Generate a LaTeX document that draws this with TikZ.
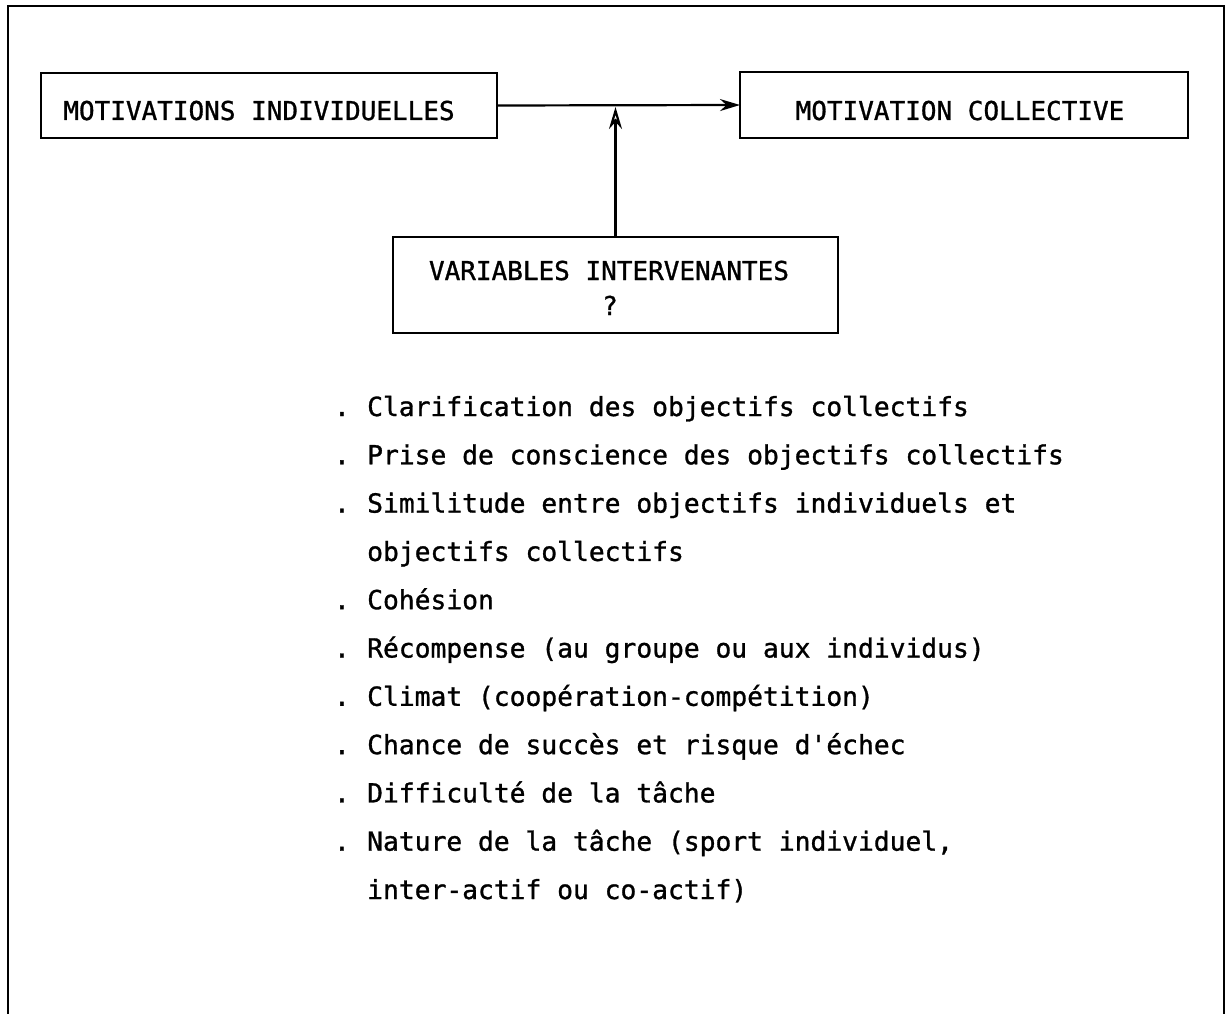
\documentclass[tikz,border=0pt]{standalone}
\usepackage{fontspec}
\newfontfamily\typefont[FakeBold=1.1]{DejaVu Sans Mono}
\usetikzlibrary{arrows.meta}
\begin{document}
\begin{tikzpicture}[x=1pt,y=-1pt,
  panel/.style={line width=2.6pt},
  box/.style={draw,line width=2.6pt,inner sep=0pt,outer sep=0pt},
  boxtxt/.style={font=\typefont\fontsize{26}{30}\selectfont,anchor=base,inner sep=0pt},
  item/.style={font=\typefont\fontsize{26.3}{30}\selectfont,anchor=base west,inner sep=0pt},
  dot/.style={font=\typefont\fontsize{26.3}{30}\selectfont,anchor=base,inner sep=0pt},
  link/.style={line width=2.2pt,-{Stealth[length=20pt,width=12pt]}},
  feed/.style={line width=2.2pt,-{Stealth[open,length=22pt,width=13pt]}}]
\useasboundingbox (0,0) rectangle (1229,1014);

% open frame around the whole figure
\draw[panel] (8,1014) -- (8,6) -- (1224,6) -- (1224,1014);

% the three boxes
\node[box,minimum width=456pt,minimum height=65pt] (A) at (269,105.5) {};
\node[box,minimum width=448pt,minimum height=66pt] (B) at (964,105) {};
\node[box,minimum width=445pt,minimum height=96pt] (C) at (615.5,285) {};

\node[boxtxt] (tA) at (259,120) {MOTIVATIONS INDIVIDUELLES};
\node[boxtxt] (tB) at (960,120) {MOTIVATION COLLECTIVE};
\node[boxtxt] (tC1) at (609,280) {VARIABLES INTERVENANTES};
\node[boxtxt] (tC2) at (610,315) {?};

% connectors
\coordinate (J) at (615.5,107);
\draw[link] (A.east) -- (B.west);
\draw[feed] (C.north) -- (J);

% list of intervening variables
\foreach \n/\y/\t in {
  1/416/{Clarification des objectifs collectifs},
  2/464.3/{Prise de conscience des objectifs collectifs},
  3/512.6/{Similitude entre objectifs individuels et},
  4/560.9/{objectifs collectifs},
  5/609.2/{Cohésion},
  6/657.5/{Récompense (au groupe ou aux individus)},
  7/705.8/{Climat (coopération-compétition)},
  8/754.1/{Chance de succès et risque d'échec},
  9/802.4/{Difficulté de la tâche},
  10/850.7/{Nature de la tâche (sport individuel,},
  11/899/{inter-actif ou co-actif)}}
  {\node[item] (l\n) at (367,\y) {\t};}

\foreach \n/\y in {1/416,2/464.3,3/512.6,5/609.2,6/657.5,7/705.8,8/754.1,9/802.4,10/850.7}
  {\node[dot] (d\n) at (342,\y) {.};}
\end{tikzpicture}
\end{document}
